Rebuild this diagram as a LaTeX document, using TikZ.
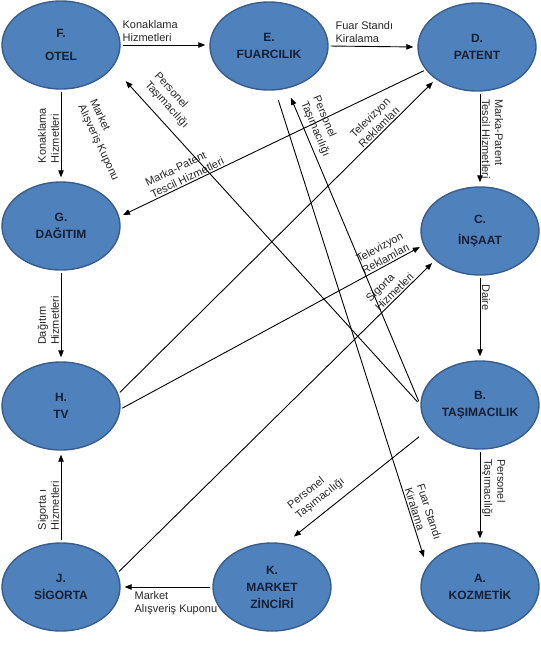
\documentclass[tikz,border=0pt]{standalone}
\usepackage{fontspec}
\setmainfont{Liberation Sans}
\usetikzlibrary{arrows.meta, shapes.geometric}
\definecolor{firmfill}{RGB}{79,129,189}
\definecolor{firmline}{RGB}{56,93,138}
\definecolor{firmtext}{RGB}{22,32,52}

\begin{document}
\begin{tikzpicture}[x=1pt, y=1pt,
    firm/.style={ellipse, draw=firmline, line width=1.4pt, fill=firmfill,
      minimum width=118pt, minimum height=88pt, inner sep=0pt, align=center,
      text=firmtext, font=\fontsize{12}{17}\selectfont\bfseries},
    flow/.style={-{Triangle[length=7pt,width=5.5pt]}, line width=0.9pt,
      shorten >=4pt, shorten <=2pt},
    lbl/.style={font=\fontsize{11}{13}\selectfont, align=left, inner sep=1.5pt,
      text=black!85}]
  \useasboundingbox (0,0) rectangle (541,-646);

  % Firms
  \node[firm] (f) at (61,-45) {F.\\[6pt]OTEL};
  \node[firm] (e) at (269,-46) {E.\\FUARCILIK};
  \node[firm] (d) at (477,-47) {D.\\PATENT};
  \node[firm] (g) at (61,-226) {G.\\DAĞITIM};
  \node[firm] (c) at (480,-231) {C.\\[4pt]İNŞAAT};
  \node[firm] (h) at (61,-406) {H.\\TV};
  \node[firm] (b) at (480,-405) {B.\\TAŞIMACILIK};
  \node[firm] (j) at (61,-587) {J.\\SİGORTA};
  \node[firm] (k) at (272,-587) {K.\\MARKET\\ZİNCİRİ};
  \node[firm] (a) at (480,-587) {A.\\KOZMETİK};

  % Top row
  \draw[flow] (f.east) -- (f.east -| e.west) node[pos=0, above right, lbl, yshift=1pt] {Konaklama\\Hizmetleri};
  \draw[flow] (e.east) -- (d.west) node[pos=0, above right, lbl, xshift=5pt, yshift=1pt] {Fuar Standı\\Kiralama};

  % Left column
  \draw[flow] (f.south) -- (g.north) node[midway, above, rotate=90, lbl] {Konaklama\\Hizmetleri};
  \draw[flow] (g.south) -- (h.north) node[pos=0.55, above, rotate=90, lbl] {Dağıtım\\Hizmetleri};
  \draw[flow] (j.north) -- (h.south) node[pos=0.4, above, rotate=90, lbl] {Sigorta ı\\Hizmetleri};

  % Right column
  \draw[flow] (c.north |- d.south) -- (c.north) node[midway, above, rotate=-90, lbl] {Marka-Patent\\Tescil Hizmetleri};
  \draw[flow] (c.south) -- (b.north) node[pos=0.08, above right, rotate=-90, lbl] {Daire};
  \draw[flow] (b.south) -- (a.north) node[pos=0.08, above right, rotate=-90, lbl] {Personel\\Taşımacılığı};

  % Bottom row
  \draw[flow] (k.west) -- (j.east) node[pos=1, below right, lbl, xshift=12pt, yshift=-3pt] {Market\\Alışveriş Kuponu};

  % Crossing flows
  \draw[flow] (d.204) -- (g.9) node[pos=0.77, sloped, above, lbl] {Marka-Patent\\Tescil Hizmetleri};
  \draw[flow] (h.12) -- (d.218) node[pos=0.835, sloped, above, lbl, align=center] {Televizyon\\Reklamları};
  \draw[flow] (h.-3) -- (c.194) node[pos=0.885, sloped, above, lbl, align=center] {Televizyon\\Reklamları};
  \draw[flow] (j.14) -- (c.213) node[pos=0.885, sloped, above, lbl] {Sigorta\\Hizmetleri};
  \draw[flow, shorten >=19pt, shorten <=4pt] (b.west) -- (f.-23) node[pos=0.86, sloped, above=7pt, lbl] {Personel\\Taşımacılığı};
  \draw[flow, shorten >=10pt, shorten <=4pt] (b.west) -- (e.-67) node[pos=0.86, sloped, above=3pt, lbl] {Personel\\Taşımacılığı};
  \draw[flow, shorten >=10pt, shorten <=10pt] (e.-82) -- (a.159) node[pos=0.897, sloped, above, lbl] {Fuar Standı\\Kiralama};
  \draw[flow, shorten >=11pt, shorten <=13pt] (b.205) -- (k.73) node[pos=0.7, sloped, above=6pt, lbl] {Personel\\Taşımacılığı};

  % Loose label
  \node[lbl, rotate=-65] (kupon) at (104,-140) {Market\\Alışveriş Kuponu};
\end{tikzpicture}
\end{document}
